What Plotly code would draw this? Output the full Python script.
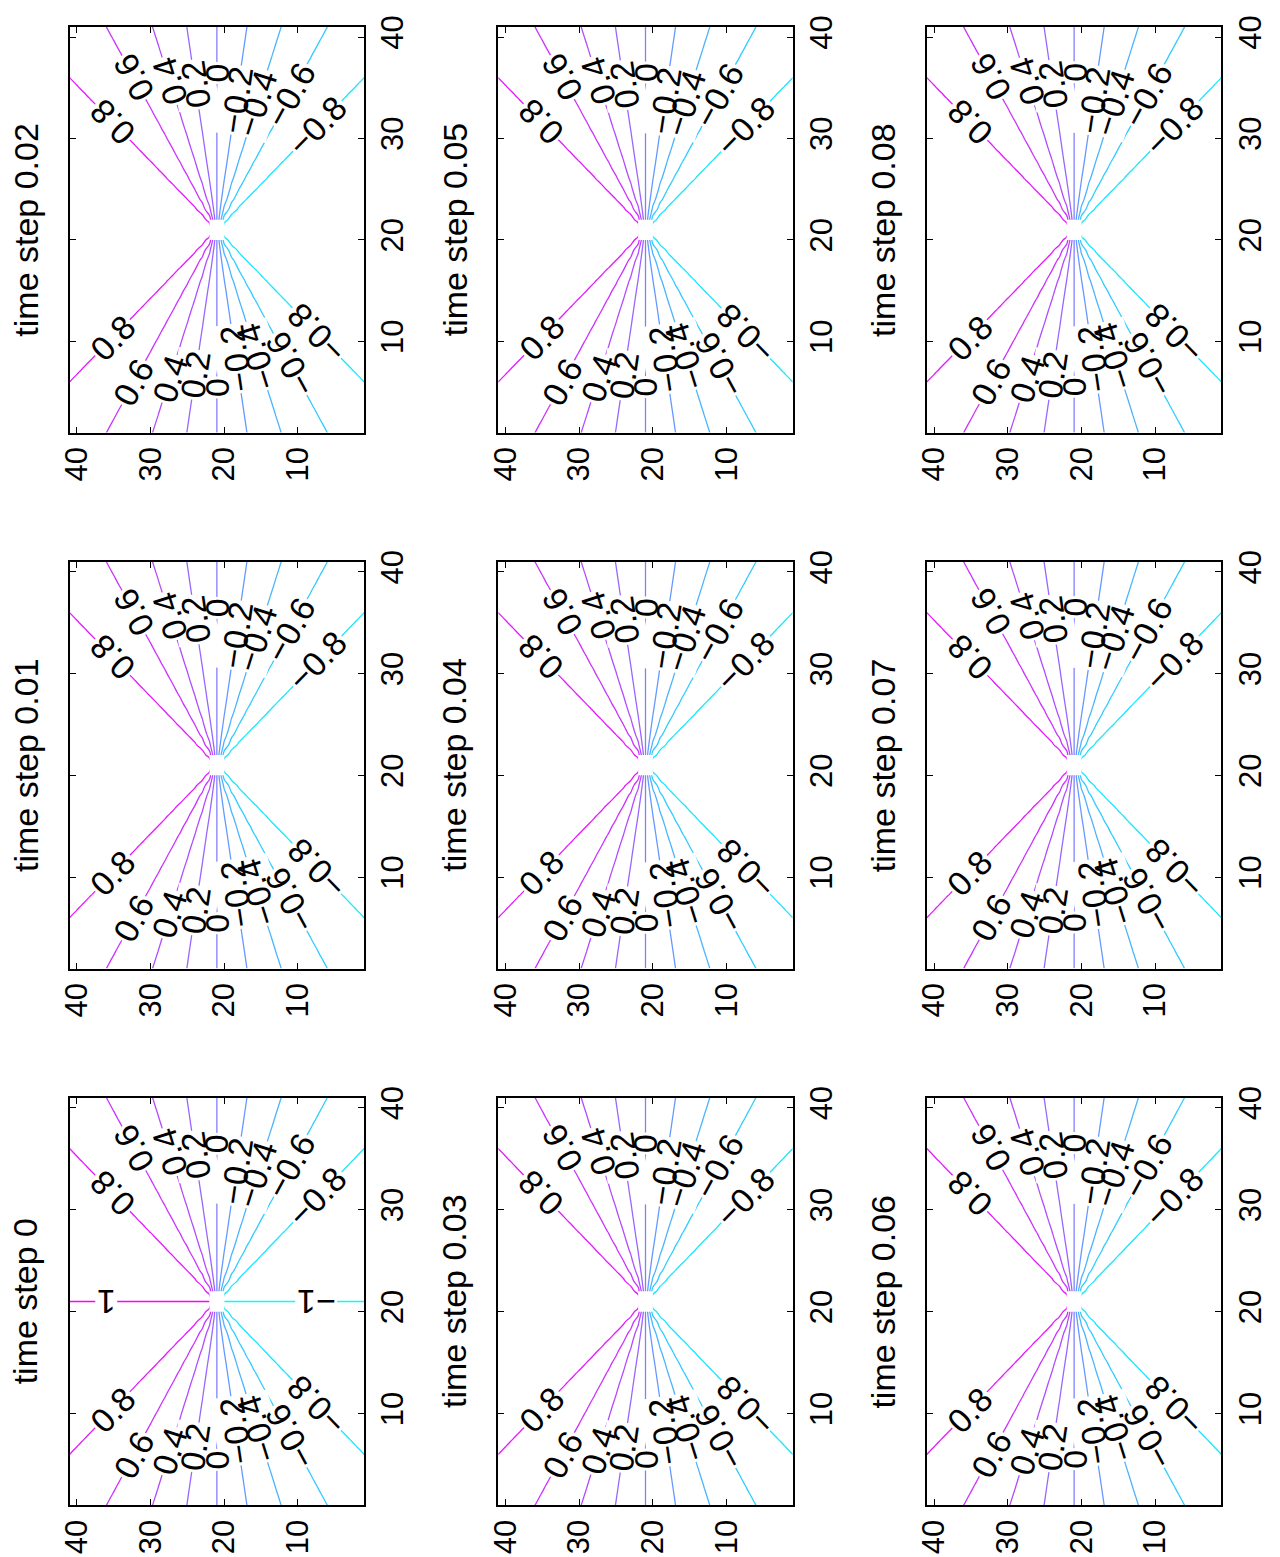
import math
import numpy as np
import plotly.graph_objects as go

# ---- data ----
time_steps = ["0", "0.01", "0.02", "0.03", "0.04", "0.05", "0.06", "0.07", "0.08"]
grid = list(range(1, 42))          # 41 x 41 grid, 1..41
center = 21                        # singular point of the field
tick_vals = [10, 20, 30, 40]
tick_text = ["10", "20", "30", "40"]
levels_first = [-1.0, -0.8, -0.6, -0.4, -0.2, 0.0, 0.2, 0.4, 0.6, 0.8, 1.0]
levels_rest = [-0.8, -0.6, -0.4, -0.2, 0.0, 0.2, 0.4, 0.6, 0.8]

# field: value = sine of the polar angle around the centre (NaN at centre)
g = np.array(grid, dtype=float)
OX, OY = np.meshgrid(g, g, indexing="ij")   # OX: original x (rows), OY: original y (cols)
dx, dy = OX - center, OY - center
r = np.hypot(dx, dy)
with np.errstate(invalid="ignore", divide="ignore"):
    field = dy / r
field[r == 0] = np.nan

# ---- layout / style (page is a landscape figure rotated 90 deg) ----
W, H = 1280, 1557
col_px = [(60, 357), (492, 789), (924, 1221)]
row_px = [(1094, 1505), (554, 964), (15, 424)]   # bottom, middle, top
FONT = "Liberation Sans, Arial, Helvetica, sans-serif"
LABEL_SIZE = 34
# distance of each contour label from the centre along its line (style, keyed by level)
LABEL_RADIUS = {-1.0: 13.5, -0.8: 17.0, -0.6: 16.6, -0.4: 13.6, -0.2: 13.0,
                0.0: 15.5, 0.2: 14.6, 0.4: 16.0, 0.6: 18.8, 0.8: 17.7, 1.0: 15.0}
EPS = 1e-5


def cool(t):
    return "rgb(%d,%d,255)" % (round(255 * t), round(255 * (1 - t)))


def fmt(c):
    if abs(c) < 1e-9:
        return "0"
    s = ("%g" % round(abs(c), 1))
    return ("\u2212" if c < 0 else "") + s


fig = go.Figure()
bg_ann, txt_ann = [], []

for k, ts in enumerate(time_steps):
    orow, ocol = divmod(k, 3)       # original grid row/col
    xl, xr = col_px[orow]
    yt, yb = row_px[ocol]
    sx, sy = (xr - xl) / 40.0, (yb - yt) / 40.0
    ax = "" if k == 0 else str(k + 1)
    lv = levels_first if k == 0 else levels_rest
    lo, hi = lv[0], lv[-1]
    t0, t1 = (lo + 1) / 2, (hi + 1) / 2
    fig.add_trace(go.Contour(
        x=grid, y=grid, z=field.tolist(),
        xaxis="x" + ax, yaxis="y" + ax,
        autocontour=False,
        contours=dict(start=lo * (1 - EPS), end=hi * (1 - EPS),
                      size=(hi - lo) * (1 - EPS) / (len(lv) - 1),
                      coloring="lines", showlabels=False),
        colorscale=[[0, cool(t0)], [1, cool(t1)]],
        line=dict(width=1.3),
        showscale=False, hoverinfo="skip",
    ))
    axcommon = dict(showline=True, mirror="ticks", linecolor="black", linewidth=2,
                    ticks="inside", ticklen=6, tickwidth=1.2, tickcolor="black",
                    tickvals=tick_vals, ticktext=tick_text, tickangle=-90,
                    showgrid=False, zeroline=False,
                    tickfont=dict(size=31, color="black", family=FONT))
    fig.layout["xaxis" + ax] = dict(axcommon, domain=[xl / W, xr / W], range=[41, 1],
                                    anchor="y" + ax, side="bottom")
    fig.layout["yaxis" + ax] = dict(axcommon, domain=[1 - yb / H, 1 - yt / H], range=[1, 41],
                                    anchor="x" + ax, side="right")
    fig.add_shape(type="rect", xref="x" + ax, yref="y" + ax,
                  x0=center - 1, x1=center + 1, y0=center - 1, y1=center + 1,
                  fillcolor="white", line=dict(width=0), layer="above")
    # contour labels along each arm of every level
    for c in lv:
        a = math.asin(max(-1.0, min(1.0, c)))
        phis = [a] if abs(abs(c) - 1) < 1e-9 else [a, math.pi - a]
        R = LABEL_RADIUS[round(c, 1)]
        for phi in phis:
            dxo, dyo = R * math.cos(phi), R * math.sin(phi)
            right, up = -dyo * sx, dxo * sy
            ang = math.degrees(math.atan2(up, right)) % 180.0
            if ang < 1e-6:
                ang = 180.0
            common = dict(x=center + dyo, y=center + dxo, xref="x" + ax, yref="y" + ax,
                          text=fmt(c), textangle=-ang, showarrow=False,
                          xanchor="center", yanchor="middle")
            bg_ann.append(dict(common, bgcolor="white", borderpad=1,
                               font=dict(size=LABEL_SIZE, color="rgba(0,0,0,0)", family=FONT)))
            txt_ann.append(dict(common, font=dict(size=LABEL_SIZE, color="black", family=FONT)))
    txt_ann.append(dict(text="time step " + ts, textangle=-90, showarrow=False,
                        xref="paper", yref="paper",
                        x=(xl - 44) / W, y=1 - (yt + yb) / 2 / H,
                        xanchor="center", yanchor="middle",
                        font=dict(size=34, color="black", family=FONT)))

fig.update_layout(width=W, height=H, margin=dict(l=0, r=0, t=0, b=0),
                  paper_bgcolor="white", plot_bgcolor="white", showlegend=False,
                  annotations=bg_ann + txt_ann)
fig.write_html("out.html")
